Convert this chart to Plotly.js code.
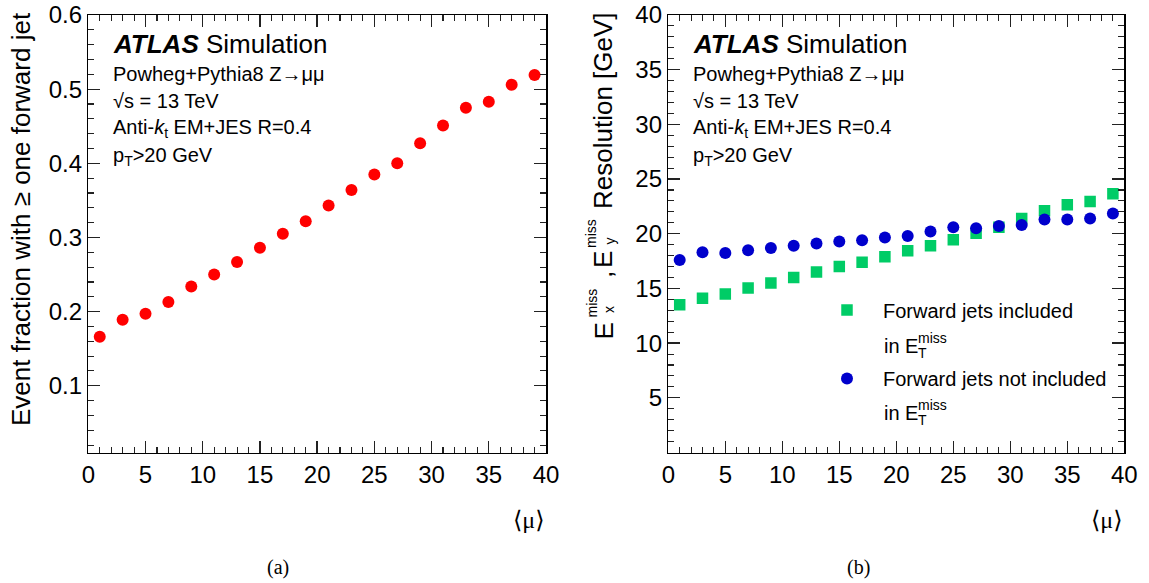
<!DOCTYPE html>
<html>
<head>
<meta charset="utf-8">
<script src="https://cdn.plot.ly/plotly-3.0.1.min.js"></script>
<style>
  html, body { margin: 0; padding: 0; background: #fff; }
  #chart { width: 1149px; height: 583px; }
</style>
</head>
<body>
<div id="chart"></div>
<script>
// ---- data ----
const mu = [1, 3, 5, 7, 9, 11, 13, 15, 17, 19, 21, 23, 25, 27, 29, 31, 33, 35, 37, 39];
const fracFwd = [0.166, 0.189, 0.197, 0.213, 0.234, 0.250, 0.267, 0.286, 0.305, 0.322,
                 0.343, 0.364, 0.385, 0.400, 0.427, 0.451, 0.475, 0.483, 0.506, 0.519];
const resIncl = [13.5, 14.1, 14.5, 15.05, 15.5, 16.0, 16.5, 17.0, 17.4, 17.9,
                 18.45, 18.9, 19.45, 20.05, 20.6, 21.4, 22.1, 22.65, 22.95, 23.65];
const resNotIncl = [17.6, 18.3, 18.25, 18.5, 18.7, 18.9, 19.1, 19.3, 19.4, 19.65,
                    19.8, 20.2, 20.6, 20.5, 20.7, 20.8, 21.3, 21.3, 21.4, 21.85];
const xTickVals = [0, 5, 10, 15, 20, 25, 30, 35, 40];
const leftYTickVals = [0.1, 0.2, 0.3, 0.4, 0.5, 0.6];
const rightYTickVals = [5, 10, 15, 20, 25, 30, 35, 40];
const legendNames = ['Forward jets included', 'Forward jets not included'];

// ---- page geometry helpers (pixel -> paper) ----
const W = 1149, H = 583;
const PX = x => x / W;
const PY = y => 1 - y / H;

const SANS = 'Liberation Sans, Arial, Helvetica, sans-serif';
const SERIF = 'Liberation Serif, Times New Roman, DejaVu Serif, serif';

function axisCommon(extra) {
  return Object.assign({
    showline: true, linecolor: '#000', linewidth: 1.5, mirror: 'ticks',
    ticks: 'inside', ticklen: 12, tickwidth: 1.3, tickcolor: '#222',
    showgrid: false, zeroline: false,
    tickfont: { family: SANS, size: 24, color: '#000' },
    fixedrange: true
  }, extra);
}

const yTop = PY(15), yBot = PY(452.5);

const traces = [
  { x: mu, y: fracFwd, xaxis: 'x', yaxis: 'y', type: 'scatter', mode: 'markers',
    marker: { color: '#ff0000', size: 12, symbol: 'circle' }, showlegend: false, hoverinfo: 'x+y' },
  { x: mu, y: resIncl, xaxis: 'x2', yaxis: 'y2', type: 'scatter', mode: 'markers',
    name: legendNames[0], legend: 'legend',
    marker: { color: '#00cc66', size: 11.5, symbol: 'square' }, showlegend: true },
  { x: mu, y: resNotIncl, xaxis: 'x2', yaxis: 'y2', type: 'scatter', mode: 'markers',
    name: legendNames[1], legend: 'legend2',
    marker: { color: '#0000cc', size: 12, symbol: 'circle' }, showlegend: true }
];

function txt(text, x, y, size, opts) {
  return Object.assign({
    text: text, x: PX(x), y: PY(y), xref: 'paper', yref: 'paper',
    xanchor: 'left', yanchor: 'middle', showarrow: false,
    font: { family: SANS, size: size, color: '#000' }
  }, opts || {});
}

const annotations = [];
// ATLAS labels on both panels
[0, 579.7].forEach(dx => {
  annotations.push(txt('<b><i>ATLAS</i></b> Simulation', 111 + dx, 43.6, 26));
  annotations.push(txt('Powheg+Pythia8 Z→μμ', 111 + dx, 74, 20));
  annotations.push(txt('√s = 13 TeV', 111 + dx, 101.3, 20));
  annotations.push(txt('Anti-<i>k</i><sub>t</sub> EM+JES R=0.4', 111 + dx, 128, 20));
  annotations.push(txt('p<sub>T</sub>>20 GeV', 111 + dx, 156.3, 20));
});

// Left y title
annotations.push(txt('Event fraction with ≥ one forward jet', 21, 219, 26,
  { textangle: -90, xanchor: 'center', yanchor: 'middle' }));

// Right y title, built from pieces so that sub/superscripts stack
const rot = { textangle: -90, xanchor: 'center', yanchor: 'middle' };
annotations.push(txt('Resolution [GeV]', 603, 111, 26, rot));
annotations.push(txt('E', 603, 260, 26, rot));
annotations.push(txt('miss', 591, 234, 14, rot));
annotations.push(txt('y', 609, 241.5, 14, rot));
annotations.push(txt(',', 603, 275, 26, rot));
annotations.push(txt('E', 603, 331.5, 26, rot));
annotations.push(txt('miss', 591, 303.5, 14, rot));
annotations.push(txt('x', 609, 310, 14, rot));

// Legend second lines: "in E_T^miss"
[0, 66.7].forEach(dy => {
  annotations.push(txt('in E', 882, 346.3 + dy, 20));
  annotations.push(txt('miss', 915.5, 338 + dy, 14));
  annotations.push(txt('T', 915.5, 353 + dy, 14));
});

// x-axis titles
annotations.push(txt('⟨μ⟩', 547, 520, 24, { xanchor: 'right', font: { family: SERIF, size: 24, color: '#000' } }));
annotations.push(txt('⟨μ⟩', 1125, 520, 24, { xanchor: 'right', font: { family: SERIF, size: 24, color: '#000' } }));
// panel labels
annotations.push(txt('(a)', 278, 567, 20, { xanchor: 'center', font: { family: SERIF, size: 20, color: '#000' } }));
annotations.push(txt('(b)', 858, 567, 20, { xanchor: 'center', font: { family: SERIF, size: 20, color: '#000' } }));

const legendCommon = {
  xanchor: 'left', yanchor: 'middle', bgcolor: 'rgba(0,0,0,0)', borderwidth: 0,
  font: { family: SANS, size: 20, color: '#000' }, itemwidth: 62, itemclick: false, itemdoubleclick: false
};

const layout = {
  width: W, height: H,
  margin: { l: 0, r: 0, t: 0, b: 0 },
  paper_bgcolor: '#fff', plot_bgcolor: '#fff',
  showlegend: true,
  xaxis: axisCommon({ domain: [PX(88.3), PX(546)], range: [0, 40], anchor: 'y',
    tickmode: 'array', tickvals: xTickVals,
    minor: { tick0: 0, dtick: 1, ticks: 'inside', ticklen: 6, tickwidth: 1.1, tickcolor: '#222' } }),
  yaxis: axisCommon({ domain: [yBot, yTop], range: [0.01, 0.6], anchor: 'x',
    tickmode: 'array', tickvals: leftYTickVals,
    minor: { tick0: 0, dtick: 0.02, ticks: 'inside', ticklen: 6, tickwidth: 1.1, tickcolor: '#222' } }),
  xaxis2: axisCommon({ domain: [PX(668.3), PX(1124.3)], range: [0, 40], anchor: 'y2',
    tickmode: 'array', tickvals: xTickVals,
    minor: { tick0: 0, dtick: 1, ticks: 'inside', ticklen: 6, tickwidth: 1.1, tickcolor: '#222' } }),
  yaxis2: axisCommon({ domain: [yBot, yTop], range: [0, 40], anchor: 'x2',
    tickmode: 'array', tickvals: rightYTickVals,
    minor: { tick0: 0, dtick: 1, ticks: 'inside', ticklen: 6, tickwidth: 1.1, tickcolor: '#222' } }),
  legend: Object.assign({ x: PX(883 - 72), y: PY(310) }, legendCommon),
  legend2: Object.assign({ x: PX(883 - 72), y: PY(378.5) }, legendCommon),
  annotations: annotations
};

Plotly.newPlot('chart', traces, layout, { displayModeBar: false, staticPlot: true });
</script>
</body>
</html>
